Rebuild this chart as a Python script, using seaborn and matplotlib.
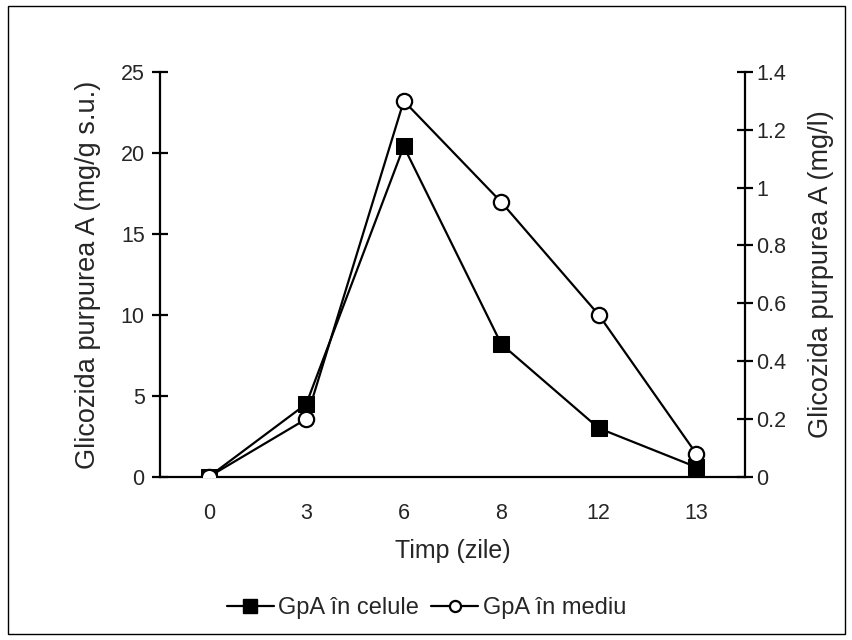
import numpy as np
import pandas as pd
import matplotlib
matplotlib.use("Agg")
import matplotlib.pyplot as plt
import seaborn as sns
from matplotlib.lines import Line2D
from matplotlib.patches import Rectangle

days = ["0", "3", "6", "8", "12", "13"]
gpa_cells = [0.0, 4.5, 20.4, 8.2, 3.0, 0.6]
gpa_medium = [0.0, 0.20, 1.30, 0.95, 0.56, 0.08]
left_ticks = [0, 5, 10, 15, 20, 25]
right_ticks = [0, 0.2, 0.4, 0.6, 0.8, 1, 1.2, 1.4]
right_labels = ["0", "0.2", "0.4", "0.6", "0.8", "1", "1.2", "1.4"]

sns.set_style("white")
plt.rcParams['font.family'] = ['Liberation Sans', 'DejaVu Sans']

TICK_FS = 15.5
XLABEL_FS = 18
YLABEL_FS = 19.5
LEGEND_FS = 17

fig = plt.figure(figsize=(8.53, 6.4), dpi=100)
ax = fig.add_axes([0.1876, 0.255, 0.8734 - 0.1876, 0.8875 - 0.255])
ax2 = ax.twinx()

df = pd.DataFrame({"x": np.arange(len(days)), "cells": gpa_cells, "medium": gpa_medium})

sns.lineplot(data=df, x="x", y="cells", ax=ax, color="black", lw=1.6,
             marker="s", markersize=11, markerfacecolor="black",
             markeredgecolor="black", zorder=3)
sns.lineplot(data=df, x="x", y="medium", ax=ax2, color="black", lw=1.6,
             marker="o", markersize=11, markerfacecolor="white",
             markeredgecolor="black", markeredgewidth=1.6, zorder=4)

ax.set_xlim(-0.5, len(days) - 0.5)
ax.set_ylim(0, 25)
ax2.set_ylim(0, 1.4)

ax.set_xticks(np.arange(len(days)))
ax.set_xticklabels(days)
ax.set_xticks(np.arange(-0.5, len(days)), minor=True)
ax.tick_params(axis="x", which="major", length=0, pad=19, labelsize=TICK_FS)
ax.tick_params(axis="x", which="minor", length=12, width=1.6, direction="inout", color="black")

ax.set_yticks(left_ticks)
ax.tick_params(axis="y", length=12, width=1.6, direction="inout", labelsize=TICK_FS, pad=5, color="black")
ax2.set_yticks(right_ticks)
ax2.set_yticklabels(right_labels)
ax2.tick_params(axis="y", length=12, width=1.6, direction="inout", labelsize=TICK_FS, pad=2, color="black")

for a in (ax, ax2):
    a.spines["top"].set_visible(False)
    for s in ("left", "right", "bottom"):
        a.spines[s].set_color("black")
        a.spines[s].set_linewidth(1.6)
ax.spines["right"].set_visible(False)
ax2.spines["left"].set_visible(False)
ax2.spines["bottom"].set_visible(False)

ax.set_xlabel("Timp (zile)", fontsize=XLABEL_FS, labelpad=11)
ax.set_ylabel("Glicozida purpurea A (mg/g s.u.)", fontsize=YLABEL_FS, labelpad=14)
ax2.set_ylabel("Glicozida purpurea A (mg/l)", fontsize=YLABEL_FS, labelpad=16)
ax.grid(False)
ax2.grid(False)

handles = [
    Line2D([], [], color="black", lw=1.6, marker="s", markersize=10, markerfacecolor="black"),
    Line2D([], [], color="black", lw=1.6, marker="o", markersize=8, markerfacecolor="white", markeredgewidth=1.6),
]
fig.legend(handles, ["GpA în celule", "GpA în mediu"], loc="center",
           bbox_to_anchor=(0.5, 0.05), ncol=2, frameon=False, fontsize=LEGEND_FS,
           handlelength=2.0, handletextpad=0.2, columnspacing=0.5)

fig.patches.append(Rectangle((0.009, 0.009), 0.982, 0.982, transform=fig.transFigure,
                             fill=False, edgecolor="black", lw=1.0))

fig.savefig("out.png", dpi=100, facecolor="white")
